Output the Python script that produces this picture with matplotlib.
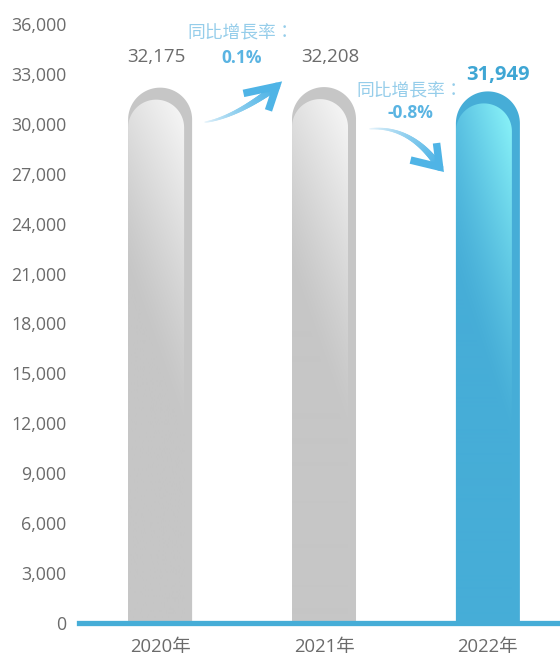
import numpy as np
import matplotlib
matplotlib.use("Agg")
import matplotlib.pyplot as plt
from matplotlib.patches import Polygon
from matplotlib.lines import Line2D
from matplotlib.colors import to_rgb

# ---- data ----
years = ["2020年", "2021年", "2022年"]
values = [32175, 32208, 31949]
value_labels = ["32,175", "32,208", "31,949"]
growth_labels = ["0.1%", "-0.8%"]
growth_title = "同比增長率："
y_ticks = list(range(0, 36001, 3000))

FONT = ["Open Sans", "Noto Sans CJK TC", "DejaVu Sans"]
plt.rcParams["font.family"] = FONT

W, H = 560, 656
fig = plt.figure(figsize=(W / 100, H / 100), dpi=100)
ax = fig.add_axes([79 / W, 33 / H, 1 - 79 / W, (623 - 24) / H])
x = np.arange(len(years))
ax.set_xlim(-0.495, 2.44)
ax.set_ylim(0, 36000)

for s in ax.spines.values():
    s.set_visible(False)
ax.set_yticks(y_ticks)
ax.set_yticklabels([f"{v:,}" for v in y_ticks])
ax.set_xticks(x)
ax.set_xticklabels(years)
ax.tick_params(axis="both", length=0, labelcolor="#6b6b6b")
ax.tick_params(axis="y", pad=9, labelsize=12.8)
ax.tick_params(axis="x", pad=11, labelsize=13.3)

to_px = ax.transData.transform
to_data = ax.transData.inverted().transform

BAR_PX = 64      # bar width in pixels
INNER_PX = 56    # width of the lighter front face
INNER_DROP = 12  # front face sits a little below the back edge


def capsule(left_px, right_px, top_px, base_px, n=60):
    r = (right_px - left_px) / 2
    cx, cy = (left_px + right_px) / 2, top_px - r
    th = np.linspace(np.pi, 0, n)
    pts = [(left_px, base_px), (left_px, cy)]
    pts += list(zip(cx + r * np.cos(th), cy + r * np.sin(th)))
    pts += [(right_px, cy), (right_px, base_px)]
    return to_data(np.array(pts))


styles = [
    dict(base="#c6c6c6", light_l="#e2e2e2", light_r="#f8f8f8"),
    dict(base="#c6c6c6", light_l="#e2e2e2", light_r="#f8f8f8"),
    dict(base="#46add7", light_l="#5cc3e3", light_r="#8cf6fa"),
]

for xi, v, st in zip(x, values, styles):
    cx_px, top_px = to_px((xi, v))
    _, base_px = to_px((xi, 0))
    left = cx_px - BAR_PX / 2
    right = cx_px + BAR_PX / 2
    outer = Polygon(capsule(left, right, top_px, base_px), closed=True,
                    facecolor=st["base"], edgecolor="none", zorder=2)
    ax.add_patch(outer)

    inner_right = left + INNER_PX
    inner_top = top_px - INNER_DROP
    inner = Polygon(capsule(left, inner_right, inner_top, base_px), closed=True,
                    facecolor="none", edgecolor="none", zorder=3)
    ax.add_patch(inner)

    # diagonal highlight on the front face, fading into the bar colour
    hpx = int(inner_top - base_px) + 2
    wpx = INNER_PX
    u = np.linspace(0, 1, wpx)[None, :]
    d = np.arange(hpx)[:, None].astype(float)
    fade = np.clip(1 - d / (175 + 160 * u), 0, 1) ** 1.3
    base = np.array(to_rgb(st["base"]))
    ll = np.array(to_rgb(st["light_l"]))
    lr = np.array(to_rgb(st["light_r"]))
    light = ll[None, None, :] * (1 - u[..., None]) + lr[None, None, :] * u[..., None]
    img = base[None, None, :] + (light - base[None, None, :]) * fade[..., None]
    (x0, y0), (x1, y1) = to_data([(left, base_px), (inner_right, inner_top)])
    im = ax.imshow(img, extent=[x0, x1, y0, y1], origin="upper",
                   aspect="auto", interpolation="bilinear", zorder=3)
    im.set_clip_path(inner)

ax.set_xlim(-0.495, 2.44)
ax.set_ylim(0, 36000)

# baseline
ax.axhline(0, color="#46add7", lw=3.8, zorder=5, clip_on=False)

# value labels
label_shift = [-0.02, 0.04, 0.06]
for i, (v, lab) in enumerate(zip(values, value_labels)):
    if i == len(values) - 1:
        ax.annotate(lab, (x[i] + label_shift[i], v), xytext=(0, 12),
                    textcoords="offset points", ha="center", va="center",
                    fontsize=14.5, fontweight="bold", color="#3fa6d4", zorder=6)
    else:
        ax.annotate(lab, (x[i] + label_shift[i], v), xytext=(0, 22),
                    textcoords="offset points", ha="center", va="center",
                    fontsize=13.5, color="#6b6b6b", zorder=6)


def gradient_arrow(p0, p1, p2, arms):
    """Quadratic curved arrow whose shaft thickens and darkens toward the head."""
    p0, p1, p2 = (np.array(to_px(p)) for p in (p0, p1, p2))
    t = np.linspace(0, 1, 60)[:, None]
    pts = (1 - t) ** 2 * p0 + 2 * (1 - t) * t * p1 + t ** 2 * p2
    pal = np.array(to_rgb("#eaf5fb"))
    blue = np.array(to_rgb("#4fb4e6"))
    for k in range(len(pts) - 1):
        f = k / (len(pts) - 2)
        c = pal + (blue - pal) * f ** 0.8
        seg = to_data(pts[k:k + 2])
        ax.add_line(Line2D(seg[:, 0], seg[:, 1], color=c, lw=1.0 + 4.4 * f ** 1.2,
                           solid_capstyle="round", zorder=6, clip_on=False))
    tip = p2
    head = np.array([tip + np.array(arms[0]), tip, tip + np.array(arms[1])])
    hd = to_data(head)
    ax.add_line(Line2D(hd[:, 0], hd[:, 1], color="#4fb4e6", lw=5.4,
                       solid_joinstyle="miter", solid_capstyle="butt",
                       zorder=7, clip_on=False))


# growth annotations between consecutive bars
gradient_arrow((0.274, 30100), (0.46, 30400), (0.71, 32250),
               arms=[(-33, -7), (-8, -24)])
gradient_arrow((1.28, 29700), (1.53, 29900), (1.705, 27400),
               arms=[(-3, 24), (-29, 7)])

ax.text(0.49, 35450, growth_title, ha="center", va="center",
        fontsize=12.8, color="#95cdea", zorder=6)
ax.text(0.495, 33950, growth_labels[0], ha="center", va="center",
        fontsize=12.5, fontweight="bold", color="#5ab4e2", zorder=6)
ax.text(1.525, 31950, growth_title, ha="center", va="center",
        fontsize=12.8, color="#95cdea", zorder=6)
ax.text(1.53, 30650, growth_labels[1], ha="center", va="center",
        fontsize=12.5, fontweight="bold", color="#5ab4e2", zorder=6)

fig.savefig("out.png", dpi=100)
